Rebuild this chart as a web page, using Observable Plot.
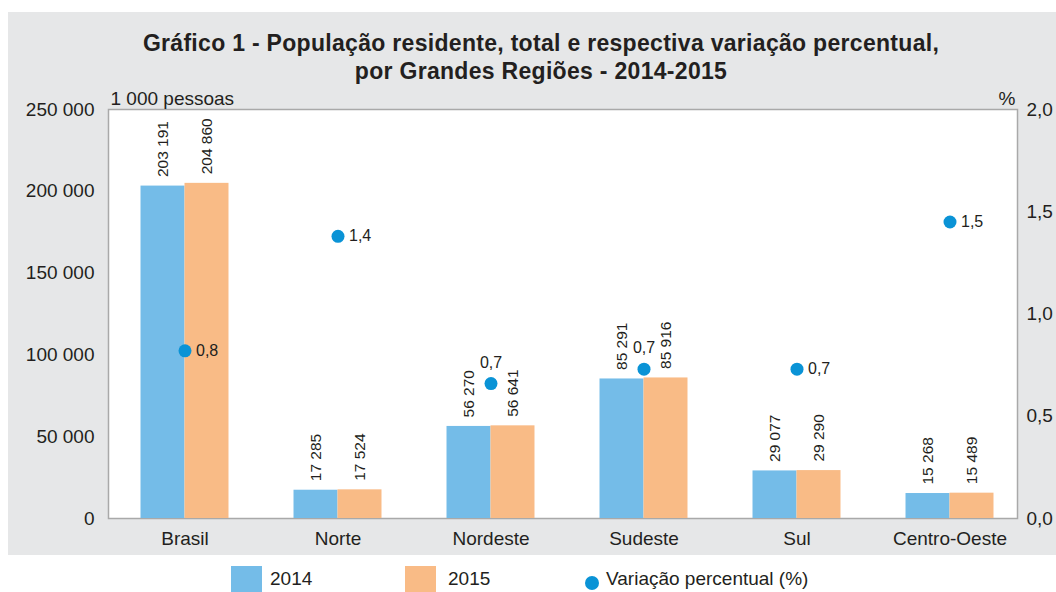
<!DOCTYPE html>
<html>
<head>
<meta charset="utf-8">
<script src="https://cdn.jsdelivr.net/npm/d3@7"></script>
<script src="https://cdn.jsdelivr.net/npm/@observablehq/plot@0.6"></script>
<style>
  body { margin: 0; background: #ffffff; font-family: "Liberation Sans", Arial, Helvetica, sans-serif; color: #231f20; }
  #wrap { position: relative; width: 1056px; height: 592px; overflow: hidden; }
  #panel { position: absolute; left: 8px; top: 12px; width: 1048px; height: 543px; background: #e6e7e8; }
  #title { position: absolute; left: 9px; top: 17px; width: 1048px; text-align: center; font-weight: bold; font-size: 23px; letter-spacing: 0.3px; line-height: 28px; color: #231f20; }
  #chart { position: absolute; left: 0; top: 73px; }
  .lg { position: absolute; font-size: 19px; color: #231f20; }
  .sw { position: absolute; width: 31px; height: 31px; }
  .dt { position: absolute; width: 14px; height: 14px; border-radius: 50%; }
</style>
</head>
<body>
<div id="wrap">
  <div id="panel">
    <div id="title">Gráfico 1 - População residente, total e respectiva variação percentual,<br>por Grandes Regiões - 2014-2015</div>
    <div id="chart"></div>
  </div>
  <div id="legend"></div>
</div>
<script>
// ---- data ----
const regions = ["Brasil", "Norte", "Nordeste", "Sudeste", "Sul", "Centro-Oeste"];
const years = ["2014", "2015"];
const pop2014 = [203191, 17285, 56270, 85291, 29077, 15268];
const pop2015 = [204860, 17524, 56641, 85916, 29290, 15489];
const variation = [0.82, 1.38, 0.66, 0.73, 0.73, 1.45];
const variationLabels = ["0,8", "1,4", "0,7", "0,7", "0,7", "1,5"];
const leftTicks = [0, 50000, 100000, 150000, 200000, 250000];
const rightTicks = [0, 0.5, 1.0, 1.5, 2.0];
const leftUnit = "1 000 pessoas";
const rightUnit = "%";
const seriesNames = ["2014", "2015", "Variação percentual (%)"];

// ---- derived tables ----
const colors = {"2014": "#74bce8", "2015": "#f9bb86"};
const dotColor = "#0a93d6";
const yMax = 250000, pMax = 2.0, k = yMax / pMax;
const bars = regions.flatMap((r, i) => [
  {region: r, year: years[0], value: pop2014[i]},
  {region: r, year: years[1], value: pop2015[i]}
]);
const vars = regions.map((r, i) => ({region: r, pct: variation[i], label: variationLabels[i]}));
const above = new Set(["Nordeste", "Sudeste"]);
const fmt = v => d3.format(",")(v).replace(/,/g, " ");
const font = '"Liberation Sans", Arial, Helvetica, sans-serif';

const chart = Plot.plot({
  width: 1048,
  height: 470,
  marginLeft: 100,
  marginRight: 30,
  marginTop: 24,
  marginBottom: 37,
  style: {background: "transparent", fontFamily: font, fontSize: "19px", color: "#231f20", overflow: "visible"},
  fx: {domain: regions, padding: 0, label: null, axis: null},
  x: {domain: years, paddingInner: 0, paddingOuter: 0.739, round: false, axis: null},
  y: {domain: [0, yMax], axis: null},
  marks: [
    Plot.frame({fill: "white", stroke: "#a9a9a9", strokeWidth: 1.5, insetRight: 9, facet: "super"}),
    Plot.barY(bars, {fx: "region", x: "year", y: "value", fill: d => colors[d.year]}),
    Plot.text(bars, {fx: "region", x: "year", y: "value", text: d => fmt(d.value), rotate: -90, textAnchor: "start", dy: -9, fontSize: 15.5, fill: "#231f20"}),
    Plot.dot(vars, {fx: "region", y: d => d.pct * k, r: 6.5, fill: dotColor, stroke: "none"}),
    Plot.text(vars.filter(d => !above.has(d.region)), {fx: "region", y: d => d.pct * k, text: "label", textAnchor: "start", dx: 11, fontSize: 16, fill: "#231f20"}),
    Plot.text(vars.filter(d => above.has(d.region)), {fx: "region", y: d => d.pct * k, text: "label", textAnchor: "middle", dy: -21, fontSize: 16, fill: "#231f20"}),
    Plot.axisY({anchor: "left", ticks: leftTicks, tickFormat: fmt, tickSize: 0, tickPadding: 14, label: null}),
    Plot.axisY({anchor: "right", ticks: rightTicks.map(t => t * k), tickFormat: d => (d / k).toFixed(1).replace(".", ","), tickSize: 0, tickPadding: 0, label: null}),
    Plot.axisFx({anchor: "bottom", tickSize: 0, tickPadding: 13, label: null}),
    Plot.text([leftUnit], {frameAnchor: "top-left", text: d => d, textAnchor: "start", lineAnchor: "bottom", dx: 2, dy: -5, facet: "super", fill: "#231f20"}),
    Plot.text([rightUnit], {frameAnchor: "top-right", text: d => d, textAnchor: "end", lineAnchor: "bottom", dx: -11, dy: -5, facet: "super", fill: "#231f20"})
  ]
});
document.getElementById("chart").appendChild(chart);

// ---- legend ----
const lg = document.getElementById("legend");
const items = [
  {kind: "sw", color: colors["2014"], left: 231, tleft: 270, text: seriesNames[0]},
  {kind: "sw", color: colors["2015"], left: 405, tleft: 448, text: seriesNames[1]},
  {kind: "dt", color: dotColor, left: 585, tleft: 606, text: seriesNames[2]}
];
for (const it of items) {
  const m = document.createElement("div");
  m.className = it.kind;
  m.style.background = it.color;
  m.style.left = it.left + "px";
  m.style.top = it.kind === "sw" ? "566px" : "576px";
  lg.appendChild(m);
  const t = document.createElement("div");
  t.className = "lg";
  t.style.left = it.tleft + "px";
  t.style.top = "568px";
  t.textContent = it.text;
  lg.appendChild(t);
}
</script>
</body>
</html>
